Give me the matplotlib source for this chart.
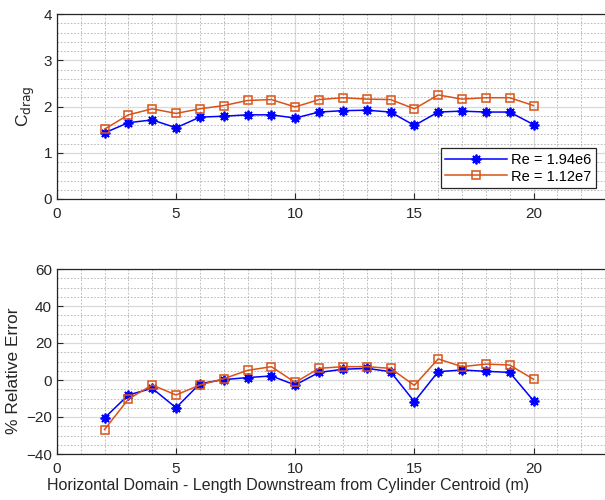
import numpy as np
import matplotlib
matplotlib.use("Agg")
import matplotlib.pyplot as plt
from matplotlib.ticker import MultipleLocator

plt.rcParams['font.family'] = ['Liberation Sans', 'DejaVu Sans']

# distance downstream (m)
x = [2, 3, 4, 5, 6, 7, 8, 9, 10, 11, 12, 13, 14, 15, 16, 17, 18, 19, 20]

# drag coefficient
cd_low = [1.43, 1.65, 1.71, 1.54, 1.77, 1.79, 1.82, 1.82, 1.75, 1.88, 1.91,
          1.92, 1.88, 1.59, 1.88, 1.90, 1.88, 1.88, 1.61]
cd_high = [1.51, 1.82, 1.95, 1.85, 1.95, 2.02, 2.13, 2.15, 1.99, 2.15, 2.19,
           2.16, 2.15, 1.95, 2.25, 2.16, 2.19, 2.19, 2.02]

# relative error (%)
err_low = [-20.5, -8.1, -4.5, -15.0, -2.0, 0.2, 1.3, 2.2, -2.7, 4.1, 5.8,
           6.3, 4.5, -11.7, 4.5, 5.4, 4.7, 4.1, -11.2]
err_high = [-26.8, -10.3, -2.7, -8.1, -2.7, 0.7, 5.2, 7.2, -1.3, 6.3, 7.2,
            7.2, 6.3, -2.9, 11.4, 7.2, 8.6, 8.1, 0.4]

labels = ["Re = 1.94e6", "Re = 1.12e7"]

blue = '#0000FF'
orange = '#D95319'
txt = '#262626'
star = (8, 2, 0)  # matlab-like asterisk

fig = plt.figure(figsize=(6.05, 5.0), dpi=100)
ax1 = fig.add_axes([0.094, 0.602, 0.906, 0.370])
ax2 = fig.add_axes([0.094, 0.092, 0.906, 0.370])


def style(ax, ymaj, ymin):
    ax.set_xlim(0, 23)
    ax.xaxis.set_major_locator(MultipleLocator(5))
    ax.xaxis.set_minor_locator(MultipleLocator(1))
    ax.yaxis.set_major_locator(MultipleLocator(ymaj))
    ax.yaxis.set_minor_locator(MultipleLocator(ymin))
    ax.grid(which='major', color='#d9d9d9', lw=0.9, ls='-')
    ax.grid(which='minor', color='#b0b0b0', lw=0.6, ls=(0, (2, 2)))
    ax.set_axisbelow(True)
    ax.tick_params(which='both', direction='in', colors=txt, labelsize=11,
                   top=False, right=False)
    ax.tick_params(which='major', length=4)
    ax.tick_params(axis='x', which='major', pad=6)
    ax.tick_params(which='minor', length=0)
    for s in ['top', 'left', 'bottom']:
        ax.spines[s].set_color(txt)
        ax.spines[s].set_linewidth(0.9)
    ax.spines['right'].set_visible(False)


ax1.plot(x, cd_low, color=blue, marker=star, ms=7, mew=1.3, lw=1.1,
         label=labels[0])
ax1.plot(x, cd_high, color=orange, marker='s', ms=6, mfc='none', mew=1.1,
         lw=1.1, label=labels[1])
ax1.set_ylim(0, 4)
style(ax1, 1, 0.2)
ax1.set_ylabel(r'C$_{\mathrm{drag}}$', fontsize=12.5, color=txt)
ax1.yaxis.set_label_coords(-0.036, 0.5)
leg = ax1.legend(loc='lower right', bbox_to_anchor=(0.983, 0.06), fontsize=10.5,
                 fancybox=False, edgecolor=txt, framealpha=1,
                 handlelength=4.2, borderpad=0.3, labelspacing=0.2,
                 handletextpad=0.3, borderaxespad=0)
leg.get_frame().set_linewidth(0.9)

ax2.plot(x, err_low, color=blue, marker=star, ms=7, mew=1.3, lw=1.1)
ax2.plot(x, err_high, color=orange, marker='s', ms=6, mfc='none', mew=1.1,
         lw=1.1)
ax2.set_ylim(-40, 60)
style(ax2, 20, 5)
ax2.set_ylabel('% Relative Error', fontsize=12.5, color=txt)
ax2.yaxis.set_label_coords(-0.066, 0.45)
ax2.set_xlabel('Horizontal Domain - Length Downstream from Cylinder Centroid (m)',
               fontsize=11.5, color=txt)
ax2.xaxis.set_label_coords(0.422, -0.13)

fig.savefig('out.png', dpi=100)
